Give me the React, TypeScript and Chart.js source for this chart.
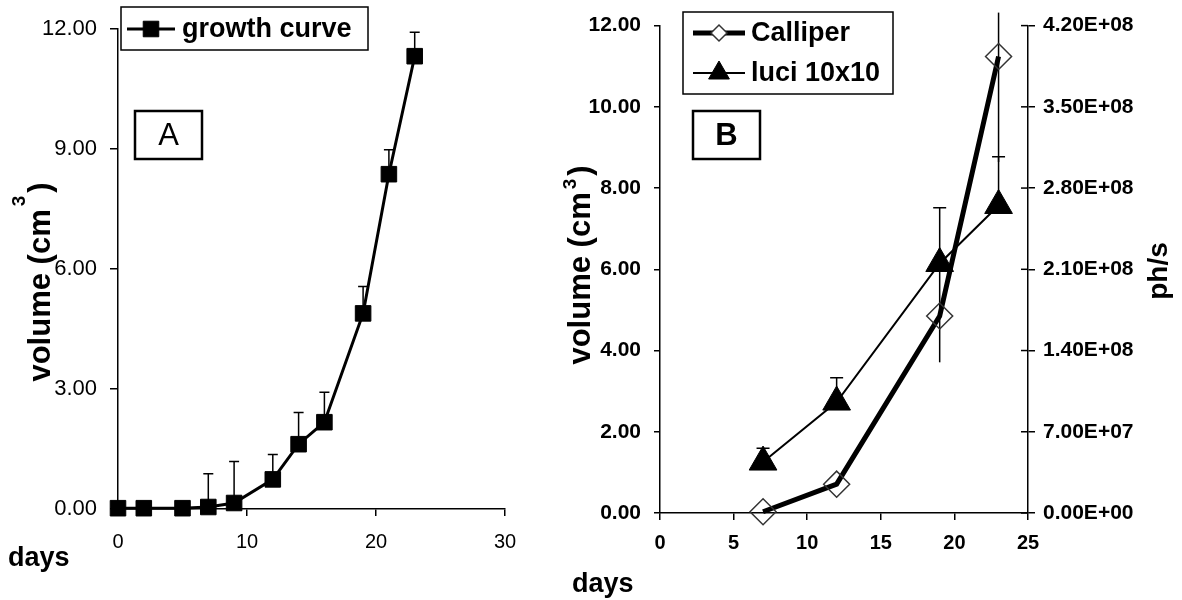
import React, { useEffect, useRef } from 'react';
import { Chart, registerables } from 'chart.js';
import { drawPoint } from 'chart.js/helpers';

Chart.register(...registerables);

// ---------- data ----------
// Panel A: growth curve
const growthDays = [0, 2, 5, 7, 9, 12, 14, 16, 19, 21, 23];
const growthVolume = [0.02, 0.02, 0.02, 0.05, 0.15, 0.74, 1.62, 2.17, 4.89, 8.37, 11.32];
const growthErrUp = [0, 0, 0, 0.83, 1.04, 0.62, 0.79, 0.75, 0.67, 0.61, 0.6];

// Panel B: calliper vs luciferase
const bDays = [7, 12, 19, 23];
const calliperVolume = [0.03, 0.71, 4.85, 11.24];
const calliperErr = [0, 0, 1.14, 2.6];
const luciFlux = [4.39e7, 9.56e7, 2.15e8, 2.65e8];
const luciErrUp = [1.2e7, 2.1e7, 4.8e7, 4.2e7];

// axes / ticks
const aXTicks = { min: 0, max: 30, step: 10 };
const aYTicks = { min: 0, max: 12, step: 3 };
const bXTicks = { min: 0, max: 25, step: 5 };
const bYTicks = { min: 0, max: 12, step: 2 };
const bY1Ticks = { min: 0, max: 4.2e8, step: 7e7 };

const labelA = 'A';
const labelB = 'B';
const legendA = 'growth curve';
const legendCalliper = 'Calliper';
const legendLuci = 'luci 10x10';
const xTitle = 'days';
const yTitleMain = 'volume (cm';
const yTitleSup = '3';
const yTitleTail = ')';
const y1Title = 'ph/s';

const FONT = '"Liberation Sans", Arial, sans-serif';

function sci(v: number): string {
  if (Math.abs(v) < 1e-6) return '0.00E+00';
  let e = Math.floor(Math.log10(Math.abs(v)));
  let ms = (v / Math.pow(10, e)).toFixed(2);
  if (parseFloat(ms) >= 10) {
    e += 1;
    ms = (v / Math.pow(10, e)).toFixed(2);
  }
  const es = (e < 0 ? '-' : '+') + String(Math.abs(e)).padStart(2, '0');
  return ms + 'E' + es;
}

function drawVTitle(ctx: CanvasRenderingContext2D, x: number, cy: number, size: number, main: string, sup: string, tail: string, supRaise: number) {
  ctx.save();
  ctx.translate(x, cy);
  ctx.rotate(-Math.PI / 2);
  ctx.fillStyle = '#000';
  ctx.textAlign = 'left';
  ctx.textBaseline = 'alphabetic';
  const f = `bold ${size}px ${FONT}`;
  const fs = `bold ${Math.round(size * 0.6)}px ${FONT}`;
  ctx.font = f;
  const w1 = ctx.measureText(main).width;
  const w3 = tail ? ctx.measureText(tail).width : 0;
  ctx.font = fs;
  const w2 = sup ? ctx.measureText(sup).width : 0;
  const gap = sup ? 3 : 0;
  const total = w1 + w2 + w3 + gap * 2;
  let sx = -total / 2;
  ctx.font = f;
  ctx.fillText(main, sx, 0);
  sx += w1 + gap;
  if (sup) {
    ctx.font = fs;
    ctx.fillText(sup, sx, -size * supRaise);
    sx += w2 + gap;
  }
  if (tail) {
    ctx.font = f;
    ctx.fillText(tail, sx, 0);
  }
  ctx.restore();
}

function drawBoxLabel(ctx: CanvasRenderingContext2D, x: number, y: number, w: number, h: number, text: string, weight: string) {
  ctx.save();
  ctx.strokeStyle = '#000';
  ctx.lineWidth = 2.5;
  ctx.strokeRect(x, y, w, h);
  ctx.fillStyle = '#000';
  ctx.font = `${weight} 31px ${FONT}`;
  ctx.textAlign = 'center';
  ctx.textBaseline = 'middle';
  ctx.fillText(text, x + w / 2, y + h / 2 + 1);
  ctx.restore();
}

function drawLegendRow(ctx: CanvasRenderingContext2D, ds: any, x0: number, x1: number, y: number, textX: number, text: string, markerRadius: number, markerFill: string) {
  ctx.save();
  ctx.strokeStyle = ds.borderColor;
  ctx.lineWidth = ds.borderWidth;
  ctx.beginPath();
  ctx.moveTo(x0, y);
  ctx.lineTo(x1, y);
  ctx.stroke();
  ctx.fillStyle = markerFill;
  ctx.strokeStyle = ds.pointBorderColor;
  ctx.lineWidth = ds.pointBorderWidth;
  drawPoint(ctx, { pointStyle: ds.pointStyle, rotation: 0, radius: markerRadius, borderWidth: ds.pointBorderWidth } as any, (x0 + x1) / 2, y);
  ctx.fillStyle = '#000';
  ctx.font = `bold 27px ${FONT}`;
  ctx.textAlign = 'left';
  ctx.textBaseline = 'middle';
  ctx.fillText(text, textX, y + 1);
  ctx.restore();
}

const errorBarPlugin = {
  id: 'errbars',
  beforeDatasetsDraw(chart: any) {
    const ctx = chart.ctx;
    const area = chart.chartArea;
    chart.data.datasets.forEach((ds: any, i: number) => {
      if (!ds.errPlus) return;
      const meta = chart.getDatasetMeta(i);
      const ys = chart.scales[meta.yAxisID];
      const xs = chart.scales[meta.xAxisID];
      ctx.save();
      ctx.strokeStyle = '#000';
      ctx.lineWidth = 1.5;
      ds.data.forEach((p: any, j: number) => {
        const up = ds.errPlus[j] || 0;
        const dn = ds.errMinus ? ds.errMinus[j] || 0 : 0;
        if (!up && !dn) return;
        const px = xs.getPixelForValue(p.x);
        const top = Math.max(ys.getPixelForValue(p.y + up), area.top - 13);
        const bot = ys.getPixelForValue(p.y - dn);
        ctx.beginPath();
        ctx.moveTo(px, bot);
        ctx.lineTo(px, top);
        if (ds.errCap) {
          ctx.moveTo(px - ds.errCap / 2, top);
          ctx.lineTo(px + ds.errCap / 2, top);
        }
        ctx.stroke();
      });
      ctx.restore();
    });
  },
};

const axisCommon = (fontSize: number, weight: string, padding: number, tickLength: number) => ({
  ticks: { color: '#000', font: { family: FONT, size: fontSize, weight }, padding },
  grid: { drawOnChartArea: false, drawTicks: true, tickLength, color: '#000', lineWidth: 1.5 },
  border: { color: '#000', width: 1.5 },
});

function ChartA() {
  const ref = useRef<HTMLCanvasElement>(null);
  useEffect(() => {
    if (!ref.current) return;
    const annot = {
      id: 'annotA',
      afterDraw(chart: any) {
        const ctx = chart.ctx;
        drawVTitle(ctx, 50, 282, 31, yTitleMain, yTitleSup, yTitleTail, 0.8);
        ctx.save();
        ctx.fillStyle = '#000';
        ctx.font = `bold 27px ${FONT}`;
        ctx.textAlign = 'left';
        ctx.textBaseline = 'alphabetic';
        ctx.fillText(xTitle, 8, 566);
        ctx.restore();
        // legend
        ctx.save();
        ctx.fillStyle = '#fff';
        ctx.fillRect(121, 7, 247, 43);
        ctx.strokeStyle = '#000';
        ctx.lineWidth = 1.5;
        ctx.strokeRect(121, 7, 247, 43);
        ctx.restore();
        drawLegendRow(ctx, chart.data.datasets[0], 127, 175, 29, 182, chart.data.datasets[0].label, 11, '#000');
        drawBoxLabel(ctx, 135, 111, 67, 48, labelA, 'normal');
      },
    };
    const chart = new Chart(ref.current, {
      type: 'line',
      data: {
        datasets: [
          {
            label: legendA,
            data: growthDays.map((d, i) => ({ x: d, y: growthVolume[i] })),
            borderColor: '#000',
            borderWidth: 3,
            pointStyle: 'rect',
            pointRadius: 11,
            pointBackgroundColor: '#000',
            pointBorderColor: '#000',
            pointBorderWidth: 1,
            tension: 0,
            clip: false,
            errPlus: growthErrUp,
            errCap: 10,
          } as any,
        ],
      },
      options: {
        responsive: false,
        animation: false,
        events: [],
        layout: { padding: { top: 29, right: 55, left: 0, bottom: 0 } },
        plugins: { legend: { display: false }, tooltip: { enabled: false } },
        scales: {
          x: {
            type: 'linear',
            min: aXTicks.min,
            max: aXTicks.max,
            ...axisCommon(20, 'normal', 14, 7),
            ticks: { ...axisCommon(20, 'normal', 14, 7).ticks, stepSize: aXTicks.step },
            afterFit: (s: any) => { s.height = 91; },
          },
          y: {
            type: 'linear',
            min: aYTicks.min,
            max: aYTicks.max,
            ...axisCommon(22, 'normal', 13, 8),
            ticks: { ...axisCommon(22, 'normal', 13, 8).ticks, stepSize: aYTicks.step, callback: (v: any) => Number(v).toFixed(2) },
            afterFit: (s: any) => { s.width = 118; },
          },
        },
      } as any,
      plugins: [errorBarPlugin, annot],
    });
    return () => chart.destroy();
  }, []);
  return <canvas ref={ref} width={560} height={600} style={{ position: 'absolute', left: 0, top: 0 }} />;
}

function ChartB() {
  const ref = useRef<HTMLCanvasElement>(null);
  useEffect(() => {
    if (!ref.current) return;
    const annot = {
      id: 'annotB',
      afterDraw(chart: any) {
        const ctx = chart.ctx;
        const area = chart.chartArea;
        // inner tick marks on right axis
        const y1 = chart.scales.y1;
        ctx.save();
        ctx.strokeStyle = '#000';
        ctx.lineWidth = 1.5;
        y1.ticks.forEach((t: any) => {
          const py = y1.getPixelForValue(t.value);
          ctx.beginPath();
          ctx.moveTo(area.right - 7, py);
          ctx.lineTo(area.right, py);
          ctx.stroke();
        });
        ctx.restore();
        drawVTitle(ctx, 30, 265, 31, yTitleMain, yTitleSup, yTitleTail, 0.45);
        drawVTitle(ctx, 607, 271, 28, y1Title, '', '', 0);
        ctx.save();
        ctx.fillStyle = '#000';
        ctx.font = `bold 27px ${FONT}`;
        ctx.textAlign = 'left';
        ctx.textBaseline = 'alphabetic';
        ctx.fillText(xTitle, 12, 592);
        ctx.restore();
        // legend
        ctx.save();
        ctx.fillStyle = '#fff';
        ctx.fillRect(123, 12, 210, 82);
        ctx.strokeStyle = '#000';
        ctx.lineWidth = 1.5;
        ctx.strokeRect(123, 12, 210, 82);
        ctx.restore();
        drawLegendRow(ctx, chart.data.datasets[0], 133, 185, 33, 191, chart.data.datasets[0].label, 8, '#fff');
        drawLegendRow(ctx, chart.data.datasets[1], 133, 185, 73, 191, chart.data.datasets[1].label, 12, '#000');
        drawBoxLabel(ctx, 133, 111, 67, 48, labelB, 'bold');
      },
    };
    const chart = new Chart(ref.current, {
      type: 'line',
      data: {
        datasets: [
          {
            label: legendCalliper,
            data: bDays.map((d, i) => ({ x: d, y: calliperVolume[i] })),
            yAxisID: 'y',
            borderColor: '#000',
            borderWidth: 5,
            pointStyle: 'rectRot',
            pointRadius: 13,
            pointBackgroundColor: 'rgba(0,0,0,0)',
            pointBorderColor: '#333',
            pointBorderWidth: 1.5,
            tension: 0,
            clip: false,
            errPlus: calliperErr,
            errMinus: calliperErr,
            errCap: 0,
          } as any,
          {
            label: legendLuci,
            data: bDays.map((d, i) => ({ x: d, y: luciFlux[i] })),
            yAxisID: 'y1',
            borderColor: '#000',
            borderWidth: 2,
            pointStyle: 'triangle',
            pointRadius: 16,
            pointBackgroundColor: '#000',
            pointBorderColor: '#000',
            pointBorderWidth: 1,
            tension: 0,
            clip: false,
            errPlus: luciErrUp,
            errCap: 13,
          } as any,
        ],
      },
      options: {
        responsive: false,
        animation: false,
        events: [],
        layout: { padding: { top: 25.5, right: 0, left: 0, bottom: 0 } },
        plugins: { legend: { display: false }, tooltip: { enabled: false } },
        scales: {
          x: {
            type: 'linear',
            min: bXTicks.min,
            max: bXTicks.max,
            ...axisCommon(20, 'bold', 11, 7),
            ticks: { ...axisCommon(20, 'bold', 11, 7).ticks, stepSize: bXTicks.step },
            afterFit: (s: any) => { s.height = 87; },
          },
          y: {
            type: 'linear',
            position: 'left',
            min: bYTicks.min,
            max: bYTicks.max,
            ...axisCommon(21, 'bold', 13, 6),
            ticks: { ...axisCommon(21, 'bold', 13, 6).ticks, stepSize: bYTicks.step, callback: (v: any) => Number(v).toFixed(2) },
            afterFit: (s: any) => { s.width = 100; },
          },
          y1: {
            type: 'linear',
            position: 'right',
            min: bY1Ticks.min,
            max: bY1Ticks.max,
            ...axisCommon(21, 'bold', 8, 7),
            ticks: { ...axisCommon(21, 'bold', 8, 7).ticks, stepSize: bY1Ticks.step, callback: (v: any) => sci(Number(v)) },
            afterFit: (s: any) => { s.width = 154; },
          },
        },
      } as any,
      plugins: [errorBarPlugin, annot],
    });
    return () => chart.destroy();
  }, []);
  return <canvas ref={ref} width={622} height={600} style={{ position: 'absolute', left: 560, top: 0 }} />;
}

export default function App() {
  return (
    <div style={{ position: 'fixed', left: 0, top: 0, width: 1182, height: 600, background: '#fff', overflow: 'hidden' }}>
      <ChartA />
      <ChartB />
    </div>
  );
}
